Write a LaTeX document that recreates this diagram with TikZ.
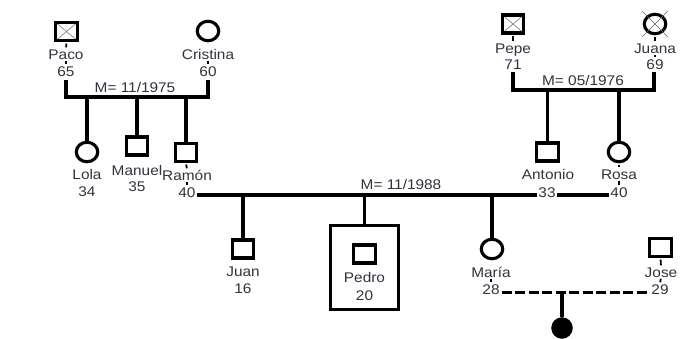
\documentclass[tikz,border=0pt]{standalone}
\usepackage{fontspec}
\setmainfont{Liberation Sans}[FakeStretch=1.1]
\usetikzlibrary{shapes.geometric}
\definecolor{txt}{RGB}{50,50,62}
\begin{document}
\begin{tikzpicture}[x=1pt,y=-1pt,
 conn/.style={line width=3.3pt},
 male/.style={draw, rectangle, line width=3.1pt, minimum width=21.5pt, minimum height=18pt, inner sep=0pt, fill=white},
 female/.style={draw, ellipse, line width=3.1pt, minimum width=21.5pt, minimum height=19.5pt, inner sep=0pt, fill=white},
 dead/.style={path picture={\draw[line width=0.5pt, black!60] (path picture bounding box.north west) -- (path picture bounding box.south east) (path picture bounding box.north east) -- (path picture bounding box.south west);}},
 lbl/.style={font=\fontsize{14}{14}\selectfont, text=txt, inner sep=0pt, text height=10pt, text depth=0pt, anchor=base},
 tick/.style={line width=1.8pt, shorten <=1.5pt, shorten >=1.5pt},
 cross/.style={line width=0.5pt, black!60},
]
\useasboundingbox (0,0) rectangle (699,338);

% ---- persons ----
\node[male, dead] (paco) at (66.5,31.5) {};
\node[lbl] (pacoN) at (66,59) {Paco};
\node[lbl] (pacoA) at (66,76) {65};

\node[female] (cris) at (208,31) {};
\node[lbl] (crisN) at (208,59) {Cristina};
\node[lbl] (crisA) at (208,76) {60};

\node[male, dead] (pepe) at (513,24) {};
\node[lbl] (pepeN) at (513,53) {Pepe};
\node[lbl] (pepeA) at (513,69) {71};

\node[female] (juana) at (655,24) {};
\draw[cross] (juana.center) ++(-13,-13) -- ++(26,26);
\draw[cross] (juana.center) ++(13,-13) -- ++(-26,26);
\node[lbl] (juanaN) at (655,53) {Juana};
\node[lbl] (juanaA) at (655,69) {69};

\node[female] (lola) at (87,152) {};
\node[lbl] (lolaN) at (87,179) {Lola};
\node[lbl] (lolaA) at (87,196) {34};

\node[male] (manuel) at (137,146) {};
\node[lbl] (manuelN) at (137,175) {Manuel};
\node[lbl] (manuelA) at (137,191) {35};

\node[male] (ramon) at (186,152.5) {};
\node[lbl] (ramonN) at (187,180) {Ramón};
\node[lbl] (ramonA) at (187,197) {40};

\node[male] (antonio) at (547.5,152) {};
\node[lbl] (antonioN) at (548,179) {Antonio};
\node[lbl] (antonioA) at (547,197) {33};

\node[female] (rosa) at (619,152) {};
\node[lbl] (rosaN) at (619,179) {Rosa};
\node[lbl] (rosaA) at (619,197) {40};

\node[male] (juan) at (243,249) {};
\node[lbl] (juanN) at (243,276) {Juan};
\node[lbl] (juanA) at (243,293) {16};

\node[draw, rectangle, line width=3.1pt, minimum width=68pt, minimum height=84pt, inner sep=0pt] (pedrobox) at (364.5,267.5) {};
\node[male] (pedro) at (364.5,254) {};
\node[lbl] (pedroN) at (364.5,282) {Pedro};
\node[lbl] (pedroA) at (364.5,300) {20};

\node[female] (maria) at (492,249) {};
\node[lbl] (mariaN) at (491,277) {María};
\node[lbl] (mariaA) at (491,294) {28};

\node[male] (jose) at (660.5,247.5) {};
\node[lbl] (joseN) at (661,277) {Jose};
\node[lbl] (joseA) at (660,294) {29};

\node[draw, ellipse, fill=black, minimum width=21pt, minimum height=21pt, inner sep=0pt] (child) at (562,328) {};

% ---- marriage labels ----
\node[lbl] (m1) at (135,92) {M= 11/1975};
\node[lbl] (m2) at (583,85) {M= 05/1976};
\node[lbl] (m3) at (401,189) {M= 11/1988};

% ---- ticks ----
\draw[tick] (paco.south) -- (pacoN.north);
\draw[tick] (pacoN.south) -- (pacoA.north);
\draw[tick] (crisN.south) -- (crisA.north);
\draw[tick] (pepe.south) -- (pepeN.north);
\draw[tick] (juana.south) -- (juanaN.north);
\draw[tick] (juanaN.south) -- (juanaA.north);
\draw[tick] (ramon.south) -- (ramonN.north);
\draw[tick] (ramonN.south) -- (ramonA.north);
\draw[tick] (rosa.south) -- (rosaN.north);
\draw[tick] (rosaN.south) -- (rosaA.north);
\draw[tick] (mariaN.south) -- (mariaA.north);
\draw[tick] (jose.south) -- (joseN.north);
\draw[tick] (joseN.south) -- (joseA.north);

% ---- marriage 1 ----
\coordinate (m1L) at (66,97);
\coordinate (m1R) at (208,97);
\draw[conn] ([yshift=-3.5pt]pacoA.south) -- (m1L) -- (m1R) -- ([yshift=-3.5pt]crisA.south);
\draw[conn] (lola |- m1L) -- (lola.north);
\draw[conn] (manuel |- m1L) -- (manuel.north);
\draw[conn] (ramon |- m1L) -- (ramon.north);

% ---- marriage 2 ----
\coordinate (m2L) at (513,90);
\coordinate (m2R) at (654,90);
\draw[conn] ([yshift=-3pt]pepeA.south) -- (m2L) -- (m2R) -- ([yshift=-3pt]juanaA.south -| m2R);
\draw[conn] (antonio |- m2L) -- (antonio.north);
\draw[conn] (rosa |- m2L) -- (rosa.north);

% ---- marriage 3 ----
\coordinate (m3) at (0,195);
\draw[conn] ([xshift=1pt]ramonA.east |- m3) -- ([xshift=-1pt]antonioA.west |- m3);
\draw[conn] ([xshift=1pt]antonioA.east |- m3) -- ([xshift=-1pt]rosaA.west |- m3);
\draw[conn] (juan |- m3) -- (juan.north);
\draw[conn] (pedrobox |- m3) -- (pedrobox.north);
\draw[conn] (maria |- m3) -- (maria.north);

% ---- partnership Maria - Jose ----
\coordinate (d) at (0,292);
\draw[line width=3pt, dash pattern=on 10pt off 3.5pt] ([xshift=2pt]mariaA.east |- d) -- ([xshift=-2pt]joseA.west |- d);
\draw[conn] (child |- d) -- (child.north);
\end{tikzpicture}
\end{document}
